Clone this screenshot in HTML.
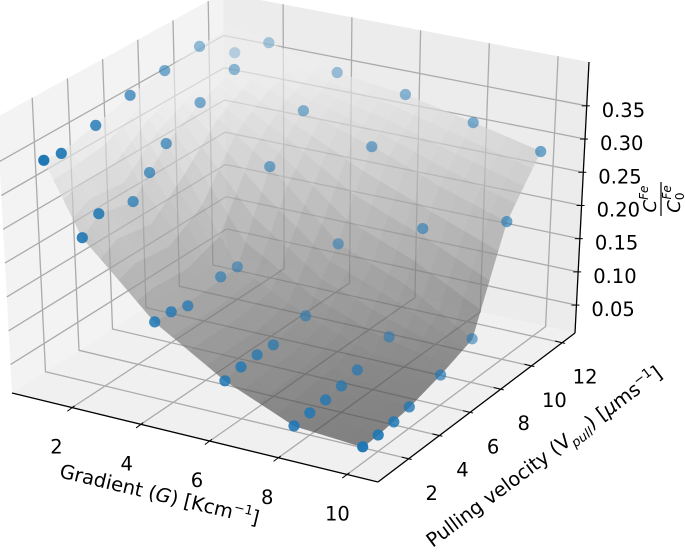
<!DOCTYPE html>
<html><head><meta charset="utf-8"><style>
html,body{margin:0;padding:0;background:#fff;}
svg{display:block;font-family:"DejaVu Sans","Liberation Sans",sans-serif;}
</style></head><body>
<svg id="chart" width="685" height="556" viewBox="0 0 685 556" xmlns="http://www.w3.org/2000/svg">
<g id="panes"></g>
<g id="grid"></g>
<g id="surface" opacity="0.65"></g>
<g id="points"></g>
<g id="axes"></g>
<g id="labels" font-size="19.5" fill="#000"></g>
<text font-size="19.5" text-anchor="middle" transform="translate(158,501) rotate(13.5)">Gradient (<tspan font-style="italic">G</tspan>) [Kcm<tspan font-size="13" dy="-8">−1</tspan><tspan dy="8">]</tspan></text>
<text font-size="19.5" text-anchor="middle" transform="translate(548,462) rotate(-36.7)">Pulling velocity (V<tspan font-size="13" font-style="italic" dy="5">pull</tspan><tspan dy="-5">) [</tspan><tspan font-style="italic">μ</tspan>ms<tspan font-size="13" dy="-8">−1</tspan><tspan dy="8">]</tspan></text>
<g transform="translate(661,199) rotate(-90)">
<text font-size="18" text-anchor="middle" x="0" y="-5"><tspan font-style="italic">C</tspan><tspan font-size="12" font-style="italic" dy="-8">Fe</tspan></text>
<line x1="-17" y1="0" x2="17" y2="0" stroke="#000" stroke-width="1.2"></line>
<text font-size="18" text-anchor="middle" x="0" y="19"><tspan font-style="italic">C</tspan><tspan font-size="12" dy="4">0</tspan><tspan font-size="12" font-style="italic" dx="-7" dy="-13">Fe</tspan></text>
</g>
</svg>
<script>
// ---- data ----
const xTicks = [2, 4, 6, 8, 10];
const yTicks = [2, 4, 6, 8, 10, 12];
const zTicks = [0.05, 0.10, 0.15, 0.20, 0.25, 0.30, 0.35];
const pointG = [10,10,10,10,10,10,10,10, 8,8,8,8,8,8,8,8, 6,6,6,6,6,6,6,6, 4,4,4,4,4,4,4,4, 2,2,2,2,2,2,2,2, 1,1,1,1,1,1,1];
const pointV = [1,2,3,4,6,8,10,12, 1,2,3,4,5,7,9,12, 1,2,3,4,6,8,10,12, 1,2,3,5,6,8,10,12, 1,2,4,5,6,8,10,12, 1,2,4,6,8,10,12];
const pointZ = [0.0313,0.0319,0.0342,0.0394,0.0527,0.0724,0.2135,0.2858,
  0.0378,0.0404,0.0428,0.0469,0.0539,0.0695,0.198,0.309,
  0.0797,0.084,0.0856,0.0841,0.0945,0.1697,0.2838,0.3312,
  0.1423,0.1415,0.1345,0.146,0.145,0.2638,0.3173,0.3443,
  0.243,0.2634,0.2509,0.2791,0.3075,0.339,0.359,0.3697,
  0.346,0.3415,0.3538,0.3693,0.377,0.384,0.344];
const surfG = [1, 2, 4, 6, 8, 10];
const surfV = [1, 2, 4, 6, 8, 10, 12];
const surfZ = [
  [0.346,0.342,0.354,0.369,0.377,0.384,0.385],
  [0.243,0.263,0.251,0.308,0.339,0.359,0.370],
  [0.142,0.141,0.140,0.145,0.264,0.317,0.344],
  [0.080,0.084,0.084,0.095,0.170,0.284,0.331],
  [0.038,0.040,0.047,0.060,0.130,0.245,0.309],
  [0.031,0.032,0.039,0.053,0.072,0.214,0.286]
];
const xLim = [0.25, 10.9];
const yLim = [0, 12.84];
const zLim = [0.008, 0.416];

// ---- projection (trilinear blend of projected box corners) ----
const C = {
  '000':[12,393],'100':[378,482],'010':[227,256],'110':[575,333],
  '001':[-3,117],'101':[382,198],'011':[223,-7],'111':[589,62]
};
function P(a,b,c){
  let x=0,y=0;
  for(const i of [0,1])for(const j of [0,1])for(const k of [0,1]){
    const w=(i?a:1-a)*(j?b:1-b)*(k?c:1-c);
    const p=C[''+i+j+k];x+=w*p[0];y+=w*p[1];
  }
  return [x,y];
}
const nx=g=>(g-xLim[0])/(xLim[1]-xLim[0]);
const ny=v=>(v-yLim[0])/(yLim[1]-yLim[0]);
const nz=z=>(z-zLim[0])/(zLim[1]-zLim[0]);
const depth=(a,b,c)=>0.433*(a-.5)-0.75*(b-.5)+0.5*(c-.5);
const NS='http://www.w3.org/2000/svg';
function mk(tag,attrs,parent){
  const e=document.createElementNS(NS,tag);
  for(const k in attrs)e.setAttribute(k,attrs[k]);
  parent.appendChild(e);return e;
}
const pts=arr=>arr.map(p=>p[0].toFixed(1)+','+p[1].toFixed(1)).join(' ');

// panes
const panes=document.getElementById('panes');
const pl=mk('polygon',{points:pts([P(0,0,0),P(0,1,0),P(0,1,1),P(0,0,1)]),fill:'#f3f3f3'},panes);


const pb=mk('polygon',{points:pts([P(0,1,0),P(1,1,0),P(1,1,1),P(0,1,1)]),fill:'#ececec'},panes);


const pf=mk('polygon',{points:pts([P(0,0,0),P(1,0,0),P(1,1,0),P(0,1,0)]),fill:'#f0f0f0'},panes);



// grid
const grid=document.getElementById('grid');
function gline(list,name){
  const l=mk('polyline',{points:pts(list),fill:'none',stroke:'#ababab','stroke-width':1.3},grid);
  
  
}
xTicks.forEach(g=>{const a=nx(g);gline([P(a,0,0),P(a,1,0),P(a,1,1)],'x-gridline');});
yTicks.forEach(v=>{const b=ny(v);gline([P(1,b,0),P(0,b,0),P(0,b,1)],'y-gridline');});
zTicks.forEach(z=>{const c=nz(z);gline([P(0,0,c),P(0,1,c),P(1,1,c)],'z-gridline');});

// surface
const surf=document.getElementById('surface');
const SUB=4, quads=[];
function zAt(i,j,s,t){
  return (1-s)*(1-t)*surfZ[i][j]+s*(1-t)*surfZ[i+1][j]+(1-s)*t*surfZ[i][j+1]+s*t*surfZ[i+1][j+1];
}
for(let i=0;i<surfG.length-1;i++)for(let j=0;j<surfV.length-1;j++){
  for(let a=0;a<SUB;a++)for(let b=0;b<SUB;b++){
    const corners=[[a,b],[a+1,b],[a+1,b+1],[a,b+1]].map(([p,q])=>{
      const s=p/SUB,t=q/SUB;
      const g=surfG[i]+s*(surfG[i+1]-surfG[i]);
      const v=surfV[j]+t*(surfV[j+1]-surfV[j]);
      return [nx(g),ny(v),nz(zAt(i,j,s,t))];
    });
    let d=0,zm=0;corners.forEach(c=>{d+=depth(c[0],c[1],c[2]);zm+=c[2];});
    quads.push({corners,d:d/4,zm:zm/4});
  }
}
quads.sort((p,q)=>p.d-q.d);
quads.forEach(q=>{
  const v=Math.max(30,Math.min(238,Math.round(58+215*q.zm)));
  const col='rgb('+v+','+v+','+v+')';
  const e=mk('polygon',{points:pts(q.corners.map(c=>P(c[0],c[1],c[2]))),fill:col,stroke:col,'stroke-width':0.6},surf);
  
  
});

// scatter
const pg=document.getElementById('points');
const parr=pointG.map((g,k)=>{const a=nx(g),b=ny(pointV[k]),c=nz(pointZ[k]);return {a,b,c,d:depth(a,b,c)};});
const dmin=Math.min(...parr.map(p=>p.d)),dmax=Math.max(...parr.map(p=>p.d));
parr.slice().sort((p,q)=>p.d-q.d).forEach(p=>{
  const s=P(p.a,p.b,p.c);
  const al=1-0.72*(dmax-p.d)/(dmax-dmin);
  const e=mk('circle',{cx:s[0].toFixed(1),cy:s[1].toFixed(1),r:5.6,fill:'#1f77b4','fill-opacity':al.toFixed(3)},pg);
  
  
});

// axes
const ax=document.getElementById('axes');
function aline(p,q,name,w){
  const e=mk('line',{x1:p[0],y1:p[1],x2:q[0],y2:q[1],stroke:'#000','stroke-width':w||1.3},ax);
  
  
}
aline(P(0,0,0),P(1,0,0),'x-axis-line');
aline(P(1,0,0),P(1,1,0),'y-axis-line');
aline(P(1,1,0),P(1,1,1),'z-axis-line');
const lab=document.getElementById('labels');
function tlabel(x,y,txt,anchor,name){
  const e=mk('text',{x:x.toFixed(1),y:y.toFixed(1),'text-anchor':anchor},lab);
  e.textContent=txt;
  
  
}
xTicks.forEach(g=>{
  const a=nx(g),p=P(a,0,0);
  aline([p[0]+2.4,p[1]-1.8],[p[0]-4.8,p[1]+3.6],'x-tick',1);
  tlabel(p[0]-17+8*a,p[1]+46,String(g),'middle','x-tick-label');
});
yTicks.forEach(v=>{
  const b=ny(v),p=P(1,b,0);
  aline([p[0]-7,p[1]-1.7],[p[0]+3,p[1]+0.7],'y-tick',1);
  tlabel(p[0]+23,p[1]+41,String(v),'middle','y-tick-label');
});
zTicks.forEach(z=>{
  const c=nz(z),p=P(1,1,c);
  aline([p[0]-5,p[1]],[p[0]+3,p[1]],'z-tick',1);
  tlabel(p[0]+15,p[1]+11,z.toFixed(2),'start','z-tick-label');
});
</script>
</body></html>
